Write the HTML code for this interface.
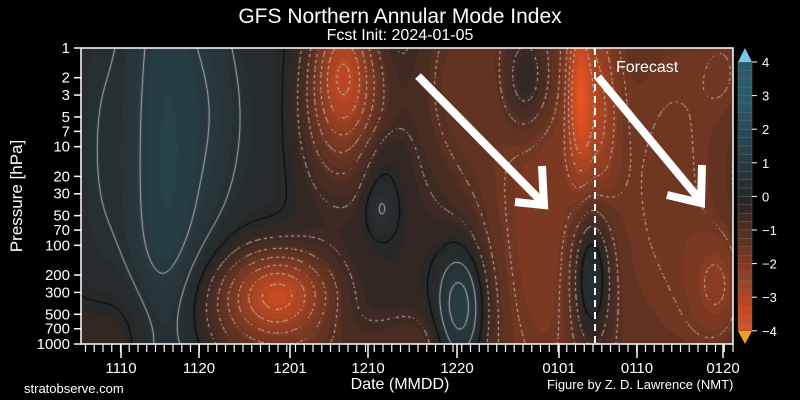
<!DOCTYPE html><html><head><style>
html,body{margin:0;padding:0;background:#000;width:800px;height:400px;overflow:hidden}
#c{position:absolute;left:81px;top:48px}
svg{position:absolute;left:0;top:0}
text{font-family:"Liberation Sans",sans-serif;fill:#fff}
</style></head><body>
<canvas id="c" width="652" height="296"></canvas>
<svg width="800" height="400" id="s">
<text x="400" y="23" font-size="21" text-anchor="middle">GFS Northern Annular Mode Index</text>
<text x="400" y="40" font-size="16" text-anchor="middle">Fcst Init: 2024-01-05</text>
<text x="616" y="72" font-size="16">Forecast</text>
<rect x="81" y="48" width="652" height="296" fill="none" stroke="#fff" stroke-width="1.5"/>
<line x1="595" y1="48" x2="595" y2="344" stroke="#fff" stroke-width="2" stroke-dasharray="7,5"/>
<g stroke="#fff" stroke-width="8" fill="none" stroke-linecap="butt">
<line x1="418" y1="76" x2="543" y2="203"/><polyline points="542,166 544,205 515,202"/>
<line x1="598" y1="77" x2="700" y2="200"/><polyline points="702,165 701,203 667,195"/>
</g>
<g id="ax" font-size="15"></g>
<text x="400" y="389" font-size="16" text-anchor="middle">Date (MMDD)</text>
<text x="22" y="196" font-size="17" text-anchor="middle" transform="rotate(-90 22 196)">Pressure [hPa]</text>
<text x="24" y="393" font-size="13">stratobserve.com</text>
<text x="547" y="389" font-size="13">Figure by Z. D. Lawrence (NMT)</text>
<g id="cb"></g>
</svg>
<script>
const W=652,H=296;
const blobs=[
[1.4,85,120,30,260],[0.5,135,60,20,90],[0.5,300,110,20,25],[-2.4,262,20,22,50],[-1.1,262,80,40,60],
[-2.4,199,245,35,30],[-1,170,260,60,40],[1.9,380,260,18,45],[0.8,300,160,12,20],
[-1.8,460,150,55,260],[-0.8,370,30,30,80],[1.4,446,30,18,40],[-1.8,498,40,8,60],[-1.3,516,60,14,70],
[2.0,510,225,15,55],[-1.5,600,140,55,250],[-1,640,240,20,40],[-0.6,650,20,20,40],[-0.6,30,300,40,40],[-0.5,240,300,60,20],[-0.6,330,300,30,30],[0.4,15,100,20,150],[0.4,190,80,30,80]];
function f(x,y){let v=0;for(const b of blobs){const dx=(x-b[1])/b[3],dy=(y-b[2])/b[4];v+=b[0]*Math.exp(-(dx*dx+dy*dy)/2);}return v;}
function col(v){v=Math.round(v*4)/4;
 if(v>=0){const t=Math.min(v/3,1);return [38+(42-38)*t|0,40+(92-40)*t|0,40+(108-40)*t|0];}
 const t=Math.min(-v/4,1);return [38+(235-38)*t|0,36+(85-36)*t|0,34+(35-34)*t|0];}
const c=document.getElementById('c').getContext('2d');const im=c.createImageData(W,H);
const s=3,GW=Math.ceil(W/s)+1,GH=Math.ceil(H/s)+1,G=[];
for(let j=0;j<GH;j++){G[j]=[];for(let i=0;i<GW;i++)G[j][i]=f(i*s,j*s);}
for(let y=0;y<H;y++)for(let x=0;x<W;x++){const k=col(f(x,y)),i=(y*W+x)*4;im.data[i]=k[0];im.data[i+1]=k[1];im.data[i+2]=k[2];im.data[i+3]=255;}
c.putImageData(im,0,0);
c.lineWidth=0.9;
for(const lv of [-3,-2.5,-2,-1.5,-1,-0.5,0,0.5,1,1.5,2]){
 c.strokeStyle=lv==0?'#000':'rgba(225,225,225,0.85)';c.beginPath();
 for(let j=0;j<GH-1;j++)for(let i=0;i<GW-1;i++){
  const v=[G[j][i]-lv,G[j][i+1]-lv,G[j+1][i+1]-lv,G[j+1][i]-lv];
  const P=[[0,0],[1,0],[1,1],[0,1]];const pts=[];
  for(let e=0;e<4;e++){const a=v[e],b=v[(e+1)%4];if((a<0)!=(b<0)){const t=a/(a-b);const p=P[e],q=P[(e+1)%4];pts.push([(i+p[0]+(q[0]-p[0])*t)*s,(j+p[1]+(q[1]-p[1])*t)*s]);}}
  if(pts.length>=2){
   if(lv<0&&((i+j)%2==1))continue;
   c.moveTo(pts[0][0],pts[0][1]);c.lineTo(pts[1][0],pts[1][1]);
   if(pts.length==4){c.moveTo(pts[2][0],pts[2][1]);c.lineTo(pts[3][0],pts[3][1]);}}
 }
 c.stroke();}
const NS='http://www.w3.org/2000/svg';const ax=document.getElementById('ax');
function el(n,a,t){const e=document.createElementNS(NS,n);for(const k in a)e.setAttribute(k,a[k]);if(t!=null)e.textContent=t;return e;}
for(const p of [1,2,3,5,7,10,20,30,50,70,100,200,300,500,700,1000]){const y=48+Math.log10(p)*98.67;
 ax.appendChild(el('line',{x1:74,x2:81,y1:y,y2:y,stroke:'#fff','stroke-width':1.5}));
 ax.appendChild(el('text',{x:70,y:y+5,'text-anchor':'end'},p));}
const d0=85.5,dd=8.75;
for(let i=0;i<75;i++){const x=d0+i*dd;if(x>733)break;ax.appendChild(el('line',{x1:x,x2:x,y1:344,y2:352,stroke:'#fff','stroke-width':1.2}));}
[['1110',121],['1120',199],['1201',290],['1210',368],['1220',457],['0101',559],['0110',637],['0120',723]].forEach(a=>{
 ax.appendChild(el('line',{x1:a[1],x2:a[1],y1:344,y2:358,stroke:'#fff','stroke-width':1.5}));
 ax.appendChild(el('text',{x:a[1],y:373,'text-anchor':'middle'},a[0]));});
const cb=document.getElementById('cb');
for(let v=4;v>-4;v-=0.25){const y=62+(4-v)*33.6;const k=col(v-0.125);cb.appendChild(el('rect',{x:738,y:y,width:14,height:8.5,fill:`rgb(${k})`,stroke:'#666','stroke-width':0.5}));}
cb.appendChild(el('polygon',{points:'738,62 752,62 745,48',fill:'#7ac8e8'}));
cb.appendChild(el('polygon',{points:'738,331 752,331 745,344',fill:'#f0a020'}));
for(let v=4;v>=-4;v--){const y=62+(4-v)*33.6;cb.appendChild(el('line',{x1:752,x2:757,y1:y,y2:y,stroke:'#fff'}));
 cb.appendChild(el('text',{x:762,y:y+5,'font-size':13},v<0?'\u2212'+(-v):v));}
</script>
</body></html>
